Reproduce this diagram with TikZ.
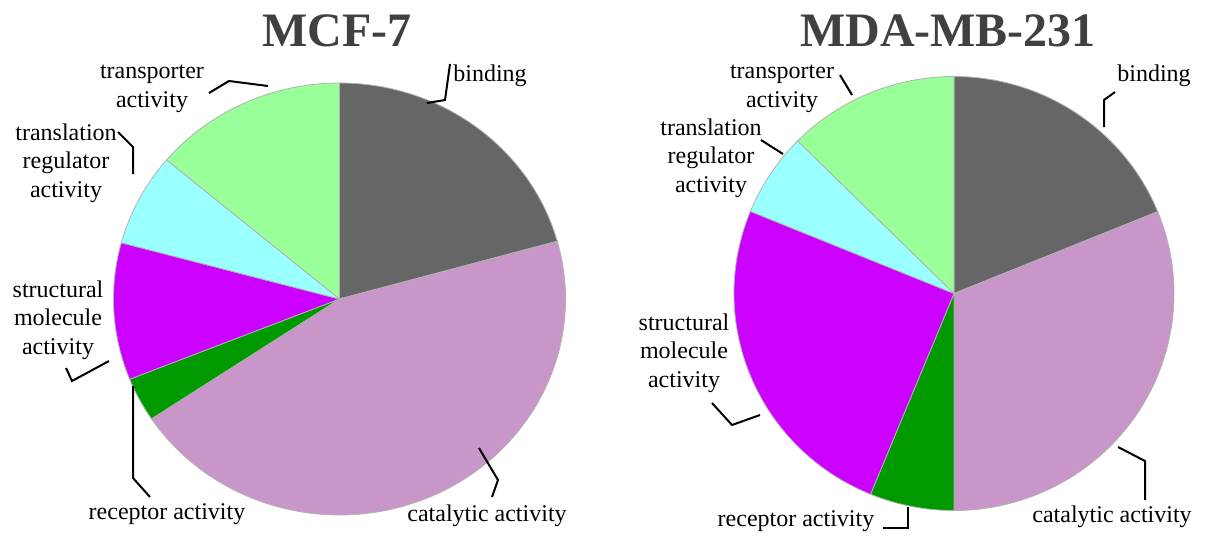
\documentclass[tikz,border=0pt]{standalone}
\usepackage{fontspec}
\setmainfont{Liberation Serif}
\definecolor{bindgray}{HTML}{666666}
\definecolor{catlilac}{HTML}{C896C8}
\definecolor{recgreen}{HTML}{009900}
\definecolor{strpurple}{HTML}{CC00FF}
\definecolor{trlcyan}{HTML}{99FFFF}
\definecolor{trpgreen}{HTML}{99FF99}
\definecolor{titlegray}{HTML}{404040}

\begin{document}
\begin{tikzpicture}[x=0.5pt,y=-0.5pt,
    slice/.style={draw=black!30,line width=0.4pt},
    lbl/.style={font=\fontsize{12}{14.3}\selectfont,align=center,inner sep=0pt},
    ttl/.style={font=\fontsize{24}{28}\selectfont\bfseries,text=titlegray,inner sep=0pt},
    leader/.style={line width=1pt,black}]
  \useasboundingbox (0,0) rectangle (1206,536);

  % MCF-7
  \coordinate (cL) at (339.5,299);
  \filldraw[slice,fill=bindgray]  (cL) -- ++(-90:226 and 216) arc[start angle=-90,end angle=-15.5,x radius=226,y radius=216] -- cycle;
  \filldraw[slice,fill=catlilac]  (cL) -- ++(-15.5:226 and 216) arc[start angle=-15.5,end angle=146.3,x radius=226,y radius=216] -- cycle;
  \filldraw[slice,fill=recgreen]  (cL) -- ++(146.3:226 and 216) arc[start angle=146.3,end angle=158.2,x radius=226,y radius=216] -- cycle;
  \filldraw[slice,fill=strpurple] (cL) -- ++(158.2:226 and 216) arc[start angle=158.2,end angle=195.1,x radius=226,y radius=216] -- cycle;
  \filldraw[slice,fill=trlcyan]   (cL) -- ++(195.1:226 and 216) arc[start angle=195.1,end angle=220.1,x radius=226,y radius=216] -- cycle;
  \filldraw[slice,fill=trpgreen]  (cL) -- ++(220.1:226 and 216) arc[start angle=220.1,end angle=270,x radius=226,y radius=216] -- cycle;

  \node[ttl] (titleL) at (337,31) {MCF-7};
  \node[lbl] (bindL) at (490,76) {binding};
  \node[lbl] (trpL) at (152,89) {transporter\\activity};
  \node[lbl] (trlL) at (66,163) {translation\\regulator\\activity};
  \node[lbl] (strL) at (58,320) {structural\\molecule\\activity};
  \node[lbl] (recL) at (167,514) {receptor activity};
  \node[lbl] (catL) at (487,516) {catalytic activity};

  \coordinate (bindLa) at (450,64);  \coordinate (bindLb) at (445,100); \coordinate (bindLc) at (427,103);
  \coordinate (trpLa) at (209,93);   \coordinate (trpLb) at (229,81);   \coordinate (trpLc) at (268,86);
  \coordinate (trlLa) at (118,132);  \coordinate (trlLb) at (133,147);  \coordinate (trlLc) at (133,174);
  \coordinate (strLa) at (66,368);   \coordinate (strLb) at (72,381);   \coordinate (strLc) at (109,361);
  \coordinate (recLa) at (133,386);  \coordinate (recLb) at (133,478);  \coordinate (recLc) at (150,497);
  \coordinate (catLa) at (479,448);  \coordinate (catLb) at (498,480);  \coordinate (catLc) at (492,497);
  \draw[leader] (bindLa) -- (bindLb) -- (bindLc);
  \draw[leader] (trpLa) -- (trpLb) -- (trpLc);
  \draw[leader] (trlLa) -- (trlLb) -- (trlLc);
  \draw[leader] (strLa) -- (strLb) -- (strLc);
  \draw[leader] (recLa) -- (recLb) -- (recLc);
  \draw[leader] (catLa) -- (catLb) -- (catLc);

  % MDA-MB-231
  \coordinate (cR) at (954,293.5);
  \filldraw[slice,fill=bindgray]  (cR) -- ++(-90:220 and 217) arc[start angle=-90,end angle=-22.15,x radius=220,y radius=217] -- cycle;
  \filldraw[slice,fill=catlilac]  (cR) -- ++(-22.15:220 and 217) arc[start angle=-22.15,end angle=90,x radius=220,y radius=217] -- cycle;
  \filldraw[slice,fill=recgreen]  (cR) -- ++(90:220 and 217) arc[start angle=90,end angle=112.3,x radius=220,y radius=217] -- cycle;
  \filldraw[slice,fill=strpurple] (cR) -- ++(112.3:220 and 217) arc[start angle=112.3,end angle=202.25,x radius=220,y radius=217] -- cycle;
  \filldraw[slice,fill=trlcyan]   (cR) -- ++(202.25:220 and 217) arc[start angle=202.25,end angle=224.7,x radius=220,y radius=217] -- cycle;
  \filldraw[slice,fill=trpgreen]  (cR) -- ++(224.7:220 and 217) arc[start angle=224.7,end angle=270,x radius=220,y radius=217] -- cycle;

  \node[ttl] (titleR) at (948,31) {MDA-MB-231};
  \node[lbl] (bindR) at (1154,76) {binding};
  \node[lbl] (trpR) at (782,89) {transporter\\activity};
  \node[lbl] (trlR) at (711,158) {translation\\regulator\\activity};
  \node[lbl] (strR) at (684,353) {structural\\molecule\\activity};
  \node[lbl] (recR) at (796,521) {receptor activity};
  \node[lbl] (catR) at (1112,517) {catalytic activity};

  \coordinate (bindRa) at (1115,92);  \coordinate (bindRb) at (1104,100); \coordinate (bindRc) at (1104,127);
  \coordinate (trpRa) at (840,75);    \coordinate (trpRb) at (852,95);
  \coordinate (trlRa) at (761,140);   \coordinate (trlRb) at (783,154);
  \coordinate (strRa) at (712,403);   \coordinate (strRb) at (732,425);   \coordinate (strRc) at (760,415);
  \coordinate (recRa) at (908,507);   \coordinate (recRb) at (908,528);   \coordinate (recRc) at (883,528);
  \coordinate (catRa) at (1118,447);  \coordinate (catRb) at (1145,461);  \coordinate (catRc) at (1145,500);
  \draw[leader] (bindRa) -- (bindRb) -- (bindRc);
  \draw[leader] (trpRa) -- (trpRb);
  \draw[leader] (trlRa) -- (trlRb);
  \draw[leader] (strRa) -- (strRb) -- (strRc);
  \draw[leader] (recRa) -- (recRb) -- (recRc);
  \draw[leader] (catRa) -- (catRb) -- (catRc);
\end{tikzpicture}
\end{document}
